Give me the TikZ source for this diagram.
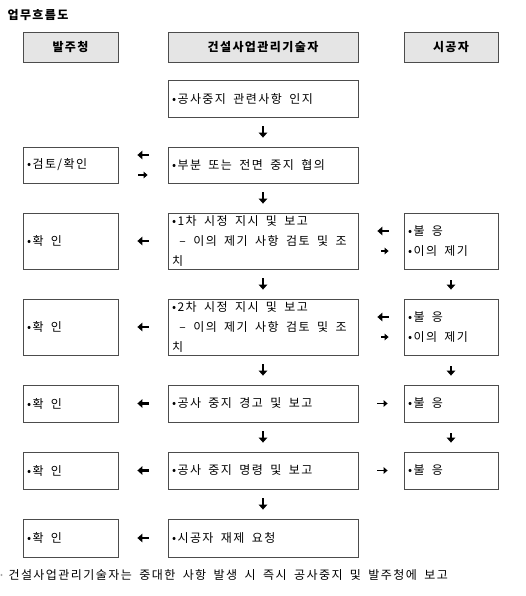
\documentclass[tikz,border=0pt]{standalone}
\usepackage{fontspec}
\setmainfont{Noto Sans CJK KR}[LetterSpace=12,WordSpace=1.8]
\usetikzlibrary{arrows.meta}

\begin{document}
\begin{tikzpicture}[x=1pt,y=-1pt,font=\fontsize{12}{20}\selectfont,
    head/.style={draw=black!70,line width=0.8pt,fill=black!10,minimum height=30pt,font=\fontsize{12}{14}\selectfont\bfseries},
    stepbox/.style={draw=black!70,line width=0.8pt,align=flush left,inner xsep=4pt,inner ysep=1pt},
    lcol/.style={stepbox,minimum width=95pt,text width=87pt},
    mcol/.style={stepbox,minimum width=190pt,text width=182pt},
    rcol/.style={stepbox,minimum width=94pt,text width=86pt},
    big/.style={line width=2.2pt,-{Triangle[width=8.5pt,length=5pt]}},
    small/.style={line width=1.8pt,-{Triangle[width=6.5pt,length=4pt]}}]
    \useasboundingbox (0,0) rectangle (525,596);
    \node[anchor=west,font=\fontsize{12}{14}\selectfont\bfseries] (title) at (4,15) {업무흐름도};
    \node[head,minimum width=95pt] (hb) at (70.5,47) {발주청};
    \node[head,minimum width=190pt] (hm) at (263,47) {건설사업관리기술자};
    \node[head,minimum width=94pt] (hr) at (451,47) {시공자};
    \node[mcol,minimum height=37pt] (m1) at (263,98.5) {•공사중지 관련사항 인지};
    \node[lcol,minimum height=36pt] (l2) at (70.5,165) {•검토/확인};
    \node[mcol,minimum height=36pt] (m2) at (263,165) {•부분 또는 전면 중지 협의};
    \node[lcol,minimum height=56pt] (l3) at (70.5,241) {•확 인};
    \node[mcol,minimum height=56pt] (m3) at (263,241) {•1차 시정 지시 및 보고\\\ – 이의 제기 사항 검토 및 조\\치};
    \node[rcol,minimum height=56pt] (r3) at (451,241) {•불 응\\•이의 제기};
    \node[lcol,minimum height=56pt] (l4) at (70.5,327) {•확 인};
    \node[mcol,minimum height=56pt] (m4) at (263,327) {•2차 시정 지시 및 보고\\\ – 이의 제기 사항 검토 및 조\\치};
    \node[rcol,minimum height=56pt] (r4) at (451,327) {•불 응\\•이의 제기};
    \node[lcol,minimum height=37pt] (l5) at (70.5,403.5) {•확 인};
    \node[mcol,minimum height=37pt] (m5) at (263,403.5) {•공사 중지 경고 및 보고};
    \node[rcol,minimum height=37pt] (r5) at (451,403.5) {•불 응};
    \node[lcol,minimum height=37pt] (l6) at (70.5,470.5) {•확 인};
    \node[mcol,minimum height=37pt] (m6) at (263,470.5) {•공사 중지 명령 및 보고};
    \node[rcol,minimum height=37pt] (r6) at (451,470.5) {•불 응};
    \node[lcol,minimum height=38pt] (l7) at (70.5,538) {•확 인};
    \node[mcol,minimum height=38pt] (m7) at (263,538) {•시공자 재제 요청};
    \fill[black!35] (1.5,575) circle (1.2pt);
    \node[anchor=west,font=\fontsize{12}{14}\selectfont] (note) at (5,575) {건설사업관리기술자는 중대한 사항 발생 시 즉시 공사중지 및 발주청에 보고};
    % down the middle
    \foreach \a/\b in {m1/m2,m2/m3,m3/m4,m4/m5,m5/m6,m6/m7}
        \draw[big,shorten <=9pt,shorten >=9pt] (\a.south) -- (\b.north);
    % down the right
    \foreach \a/\b in {r3/r4,r4/r5,r5/r6}
        \draw[big,shorten <=11pt,shorten >=9pt] (\a.south) -- (\b.north);
    % to and from the left
    \draw[big,shorten <=19pt,shorten >=19pt] ([yshift=10pt]m2.west) -- ([yshift=10pt]l2.east);
    \draw[small,shorten <=20pt,shorten >=20pt] ([yshift=-10pt]l2.east) -- ([yshift=-10pt]m2.west);
    \foreach \n in {3,4,5,6,7}
        \draw[big,shorten <=19pt,shorten >=19pt] (m\n.west) -- (l\n.east);
    % to and from the right
    \foreach \n in {3,4}{
        \draw[big,shorten <=15pt,shorten >=19pt] ([yshift=10pt]r\n.west) -- ([yshift=10pt]m\n.east);
        \draw[small,shorten <=23pt,shorten >=15pt] ([yshift=-10pt]m\n.east) -- ([yshift=-10pt]r\n.west);
    }
    \foreach \n in {5,6}
        \draw[small,shorten <=19pt,shorten >=16pt] (m\n.east) -- (r\n.west);
\end{tikzpicture}
\end{document}
